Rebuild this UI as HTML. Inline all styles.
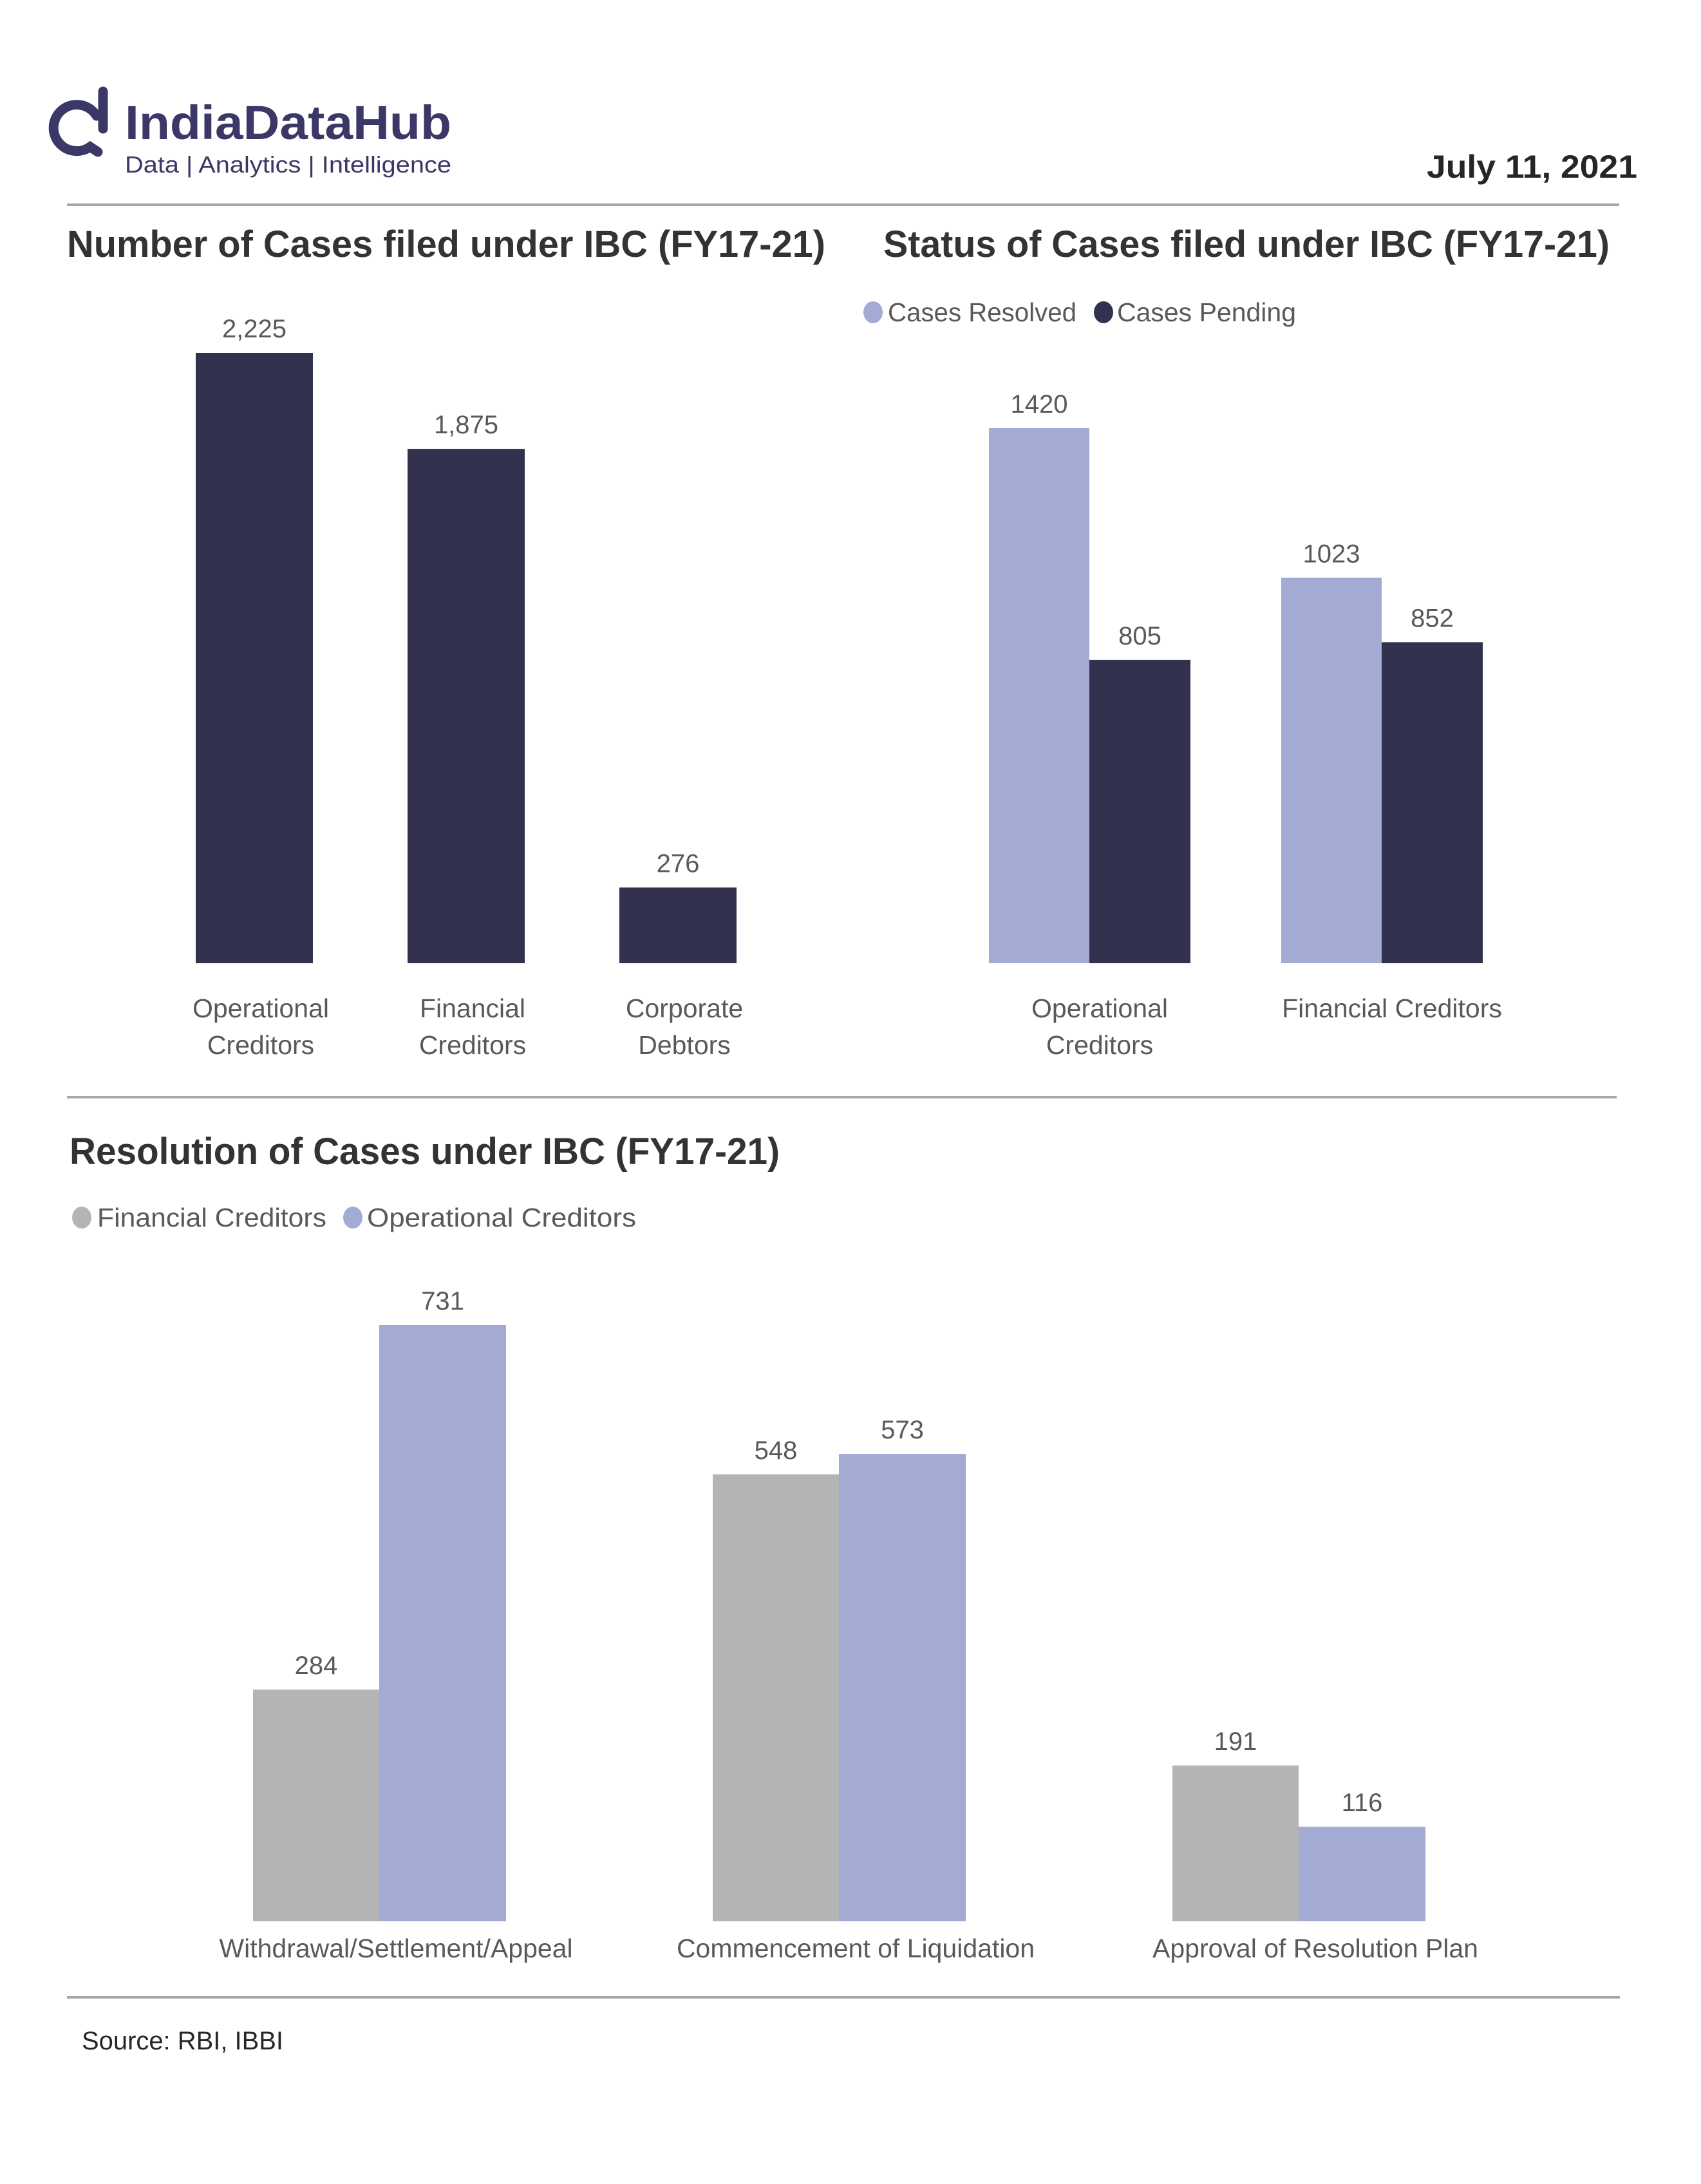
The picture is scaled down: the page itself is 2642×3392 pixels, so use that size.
<!DOCTYPE html>
<html><head><meta charset="utf-8"><style>
html,body{margin:0;padding:0;background:#fff}
svg{display:block}
text{font-family:"Liberation Sans",sans-serif}
.t{font-size:58px;font-weight:bold;fill:#333333}
.v{font-size:40px;fill:#595959;text-anchor:middle}
.c{font-size:41px;fill:#595959;text-anchor:middle}
.l{font-size:41px;fill:#595959}
</style></head><body>
<svg id="page" width="2642" height="3392" viewBox="0 0 2642 3392" xmlns="http://www.w3.org/2000/svg">
<g>
<path d="M160 142 L160 200 M150 180 A36 36 0 1 0 140 228 L152 236" fill="none" stroke="#3b3766" stroke-width="15" stroke-linecap="round"/>
<text x="194" y="216" font-size="74" font-weight="bold" fill="#3b3766" textLength="507" lengthAdjust="spacingAndGlyphs">IndiaDataHub</text>
<text x="194" y="268" font-size="36" fill="#3b3766" textLength="507" lengthAdjust="spacingAndGlyphs">Data | Analytics | Intelligence</text>
</g>
<text x="2543" y="276" font-size="50" font-weight="bold" fill="#262626" text-anchor="end" textLength="327" lengthAdjust="spacingAndGlyphs">July 11, 2021</text>
<line x1="104" y1="318" x2="2515" y2="318" stroke="#a6a6a6" stroke-width="4"/>
<text class="t" x="104" y="399" textLength="1178" lengthAdjust="spacingAndGlyphs">Number of Cases filed under IBC (FY17-21)</text>
<text class="t" x="1372" y="399" textLength="1128" lengthAdjust="spacingAndGlyphs">Status of Cases filed under IBC (FY17-21)</text>
<g>
<ellipse cx="1356" cy="485" rx="15" ry="17" fill="#a3aad4"/>
<text class="l" x="1379" y="499" textLength="293" lengthAdjust="spacingAndGlyphs">Cases Resolved</text>
<ellipse cx="1714" cy="485" rx="15" ry="17" fill="#32324f"/>
<text class="l" x="1735" y="499" textLength="278" lengthAdjust="spacingAndGlyphs">Cases Pending</text>
</g>
<g id="c1"></g>
<g id="c2"></g>
<line x1="104" y1="1704" x2="2511" y2="1704" stroke="#a6a6a6" stroke-width="4"/>
<text class="t" x="108" y="1808" textLength="1103" lengthAdjust="spacingAndGlyphs">Resolution of Cases under IBC (FY17-21)</text>
<g>
<ellipse cx="127" cy="1891" rx="15" ry="17" fill="#b4b4b5"/>
<text class="l" x="151" y="1905" textLength="356" lengthAdjust="spacingAndGlyphs">Financial Creditors</text>
<ellipse cx="548" cy="1891" rx="15" ry="17" fill="#a3aad4"/>
<text class="l" x="570" y="1905" textLength="418" lengthAdjust="spacingAndGlyphs">Operational Creditors</text>
</g>
<g id="c3"></g>
<line x1="104" y1="3102" x2="2516" y2="3102" stroke="#a6a6a6" stroke-width="4"/>
<text x="127" y="3183" font-size="40" fill="#262626" textLength="313" lengthAdjust="spacingAndGlyphs">Source: RBI, IBBI</text>
</svg>
<script>
const c1Categories = [["Operational","Creditors"],["Financial","Creditors"],["Corporate","Debtors"]];
const c1Values = [2225, 1875, 276];
const c1Labels = ["2,225","1,875","276"];
const c2Categories = [["Operational","Creditors"],["Financial Creditors"]];
const c2Resolved = [1420, 1023];
const c2Pending = [805, 852];
const c3Categories = ["Withdrawal/Settlement/Appeal","Commencement of Liquidation","Approval of Resolution Plan"];
const c3Financial = [284, 548, 191];
const c3Operational = [731, 573, 116];

const NS="http://www.w3.org/2000/svg";
function mk(parent,tag,attrs,txt){const e=document.createElementNS(NS,tag);for(const k in attrs)e.setAttribute(k,attrs[k]);if(txt!==undefined)e.textContent=txt;parent.appendChild(e);return e;}
function bar(g,x,w,base,h,fill,name,label){
  const r=mk(g,'rect',{x:x,y:base-h,width:w,height:h,fill:fill});
  
  
  const t=mk(g,'text',{x:x+w/2,y:base-h-24,class:'v'},label);
  
  
}
function cat(g,cx,y,lines,name){
  lines.forEach((ln,i)=>{
    const t=mk(g,'text',{x:cx,y:y+i*57,class:'c'},ln);
    
    
  });
}
// chart 1
(function(){
  const g=document.getElementById('c1');const base=1496, k=948/2225;
  const x0=304, step=329, w=182;
  c1Values.forEach((v,i)=>{
    const x=x0+i*step;
    bar(g,x,w,base,v*k,'#32324f','bar-'+i,c1Labels[i]);
    cat(g,x+w/2+10,1580,c1Categories[i],'category-label-'+i);
  });
})();
// chart 2
(function(){
  const g=document.getElementById('c2');const base=1496, k=831/1420;
  const x0=1536, step=454, w=156;
  c2Resolved.forEach((v,i)=>{
    const x=x0+i*step;
    bar(g,x,w,base,v*k,'#a3aad4','bar-resolved-'+i,String(v));
    bar(g,x+w,w+1,base,c2Pending[i]*k,'#32324f','bar-pending-'+i,String(c2Pending[i]));
    cat(g,x+w+16,1580,c2Categories[i],'category-label-'+i);
  });
})();
// chart 3
(function(){
  const g=document.getElementById('c3');const base=2984, k=926/731;
  const x0=393, step=714, w=196;
  c3Financial.forEach((v,i)=>{
    const x=x0+i*step;
    bar(g,x,w,base,v*k,'#b4b4b5','bar-financial-'+i,String(v));
    bar(g,x+w,w+1,base,c3Operational[i]*k,'#a3aad4','bar-operational-'+i,String(c3Operational[i]));
    cat(g,x+w+26,3040,[c3Categories[i]],'category-label-'+i);
  });
})();
</script>
</body></html>
